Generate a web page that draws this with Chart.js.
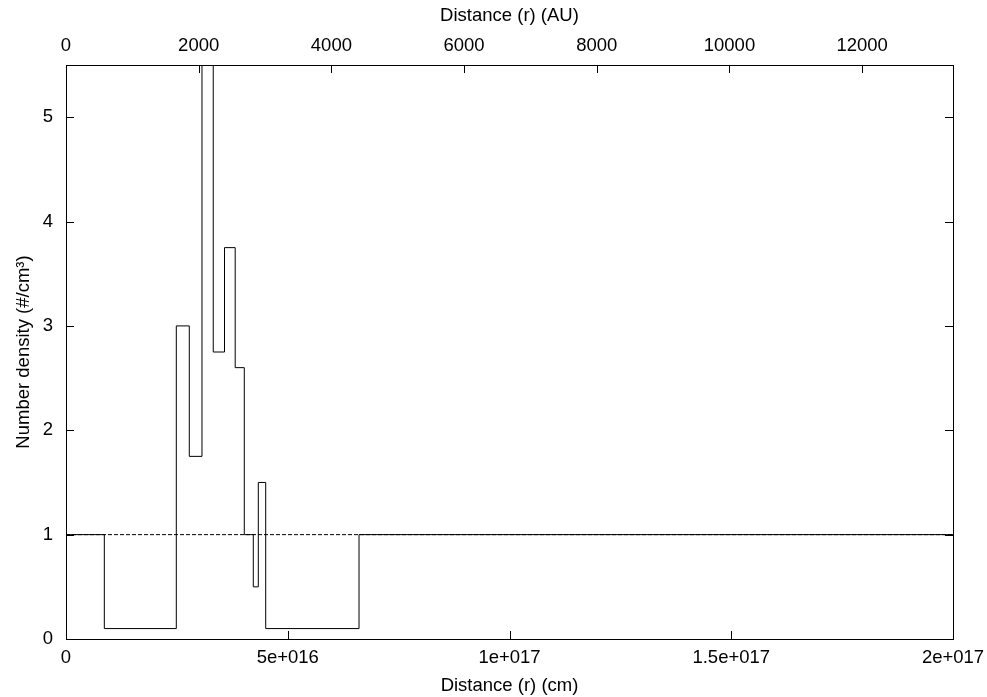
<!DOCTYPE html>
<html>
<head>
<meta charset="utf-8">
<script src="https://cdn.jsdelivr.net/npm/chart.js@4/dist/chart.umd.min.js"></script>
<style>
  html, body { margin: 0; padding: 0; background: #fff; }
  canvas { display: block; }
</style>
</head>
<body>
<canvas id="densityChart" width="987" height="697"></canvas>
<script>
// step edges (cm) and density on each step (value holds until the next edge)
const edgesCm = [0, 8.64e15, 24.87e15, 27.8e15, 30.66e15, 33.2e15, 35.74e15, 38.15e15,
                 40.2e15, 42.23e15, 43.36e15, 45.03e15, 66.07e15, 2e17];
const density = [1, 0.1, 3, 1.75, 5.5, 2.75, 3.75, 2.6, 1, 0.5, 1.5, 0.1, 1, 1];

// reference level (dashed)
const refX = [0, 2e17];
const refY = [1, 1];

// top axis tick labels (AU)
const auTicks = [0, 2000, 4000, 6000, 8000, 10000, 12000];

const xMaxCm = 2e17;
const cmPerAU = 1.496e13;
const yMax = 5.5;

const FONT = { family: '"Liberation Sans", Arial, Helvetica, sans-serif', size: 18.5 };

function sciLabel(v) {
  if (v === 0) return '0';
  const exp = Math.floor(Math.log10(v) + 1e-9);
  const mant = Math.round(v / Math.pow(10, exp) * 100) / 100;
  return mant + 'e+' + String(exp).padStart(3, '0');
}

// gnuplot style frame with inward ticks
const framePlugin = {
  id: 'frame',
  afterDraw(chart) {
    const { ctx, chartArea: a, scales } = chart;
    const len = 8;
    ctx.save();
    ctx.strokeStyle = '#000';
    ctx.lineWidth = 1;
    ctx.beginPath();
    scales.x.ticks.forEach(t => {
      const px = Math.round(scales.x.getPixelForValue(t.value)) + 0.5;
      ctx.moveTo(px, a.bottom); ctx.lineTo(px, a.bottom - len);
    });
    scales.x2.ticks.forEach(t => {
      const px = Math.round(scales.x2.getPixelForValue(t.value)) + 0.5;
      ctx.moveTo(px, a.top); ctx.lineTo(px, a.top + len);
    });
    scales.y.ticks.forEach(t => {
      const py = Math.round(scales.y.getPixelForValue(t.value)) + 0.5;
      ctx.moveTo(a.left, py); ctx.lineTo(a.left + len, py);
      ctx.moveTo(a.right, py); ctx.lineTo(a.right - len, py);
    });
    ctx.stroke();
    ctx.strokeRect(Math.round(a.left) + 0.5, Math.round(a.top) + 0.5,
                   Math.round(a.right - a.left), Math.round(a.bottom - a.top));
    ctx.restore();
  }
};

new Chart(document.getElementById('densityChart'), {
  type: 'line',
  data: {
    datasets: [
      {
        data: edgesCm.map((x, i) => ({ x: x, y: density[i] })),
        stepped: 'before',
        borderColor: '#000',
        borderWidth: 1,
        pointRadius: 0,
        fill: false,
        xAxisID: 'x'
      },
      {
        data: refX.map((x, i) => ({ x: x, y: refY[i] })),
        borderColor: '#000',
        borderWidth: 1,
        borderDash: [4, 2],
        pointRadius: 0,
        fill: false,
        xAxisID: 'x'
      }
    ]
  },
  options: {
    responsive: false,
    animation: false,
    layout: { padding: { left: 0, right: 34, top: 0, bottom: 0 } },
    plugins: { legend: { display: false }, tooltip: { enabled: false } },
    scales: {
      x: {
        type: 'linear',
        position: 'bottom',
        min: 0,
        max: xMaxCm,
        grid: { display: false },
        border: { display: false },
        ticks: {
          stepSize: 5e16,
          includeBounds: false,
          color: '#000',
          font: FONT,
          padding: 0,
          maxRotation: 0,
          callback: v => sciLabel(v)
        },
        title: { display: true, text: 'Distance (r) (cm)', color: '#000', font: FONT, padding: { top: 0, bottom: 0 } },
        afterFit(s) { s.height = 58; s.paddingLeft = 0; s.paddingRight = 0; }
      },
      x2: {
        type: 'linear',
        position: 'top',
        min: 0,
        max: xMaxCm / cmPerAU,
        grid: { display: false },
        border: { display: false },
        ticks: {
          color: '#000',
          font: FONT,
          padding: 0,
          maxRotation: 0,
          autoSkip: false,
          callback: v => String(v)
        },
        afterBuildTicks(s) { s.ticks = auTicks.map(v => ({ value: v })); },
        title: { display: true, text: 'Distance (r) (AU)', color: '#000', font: FONT, padding: { top: 5, bottom: 0 } },
        afterFit(s) { s.height = 65; s.paddingLeft = 0; s.paddingRight = 0; }
      },
      y: {
        type: 'linear',
        min: 0,
        max: yMax,
        grid: { display: false },
        border: { display: false },
        ticks: {
          stepSize: 1,
          includeBounds: false,
          color: '#000',
          font: FONT,
          padding: 5
        },
        title: { display: true, text: 'Number density (#/cm³)', color: '#000', font: FONT, padding: { top: 13, bottom: 0 } },
        afterFit(s) { s.width = 66; s.paddingTop = 0; s.paddingBottom = 0; }
      }
    }
  },
  plugins: [framePlugin]
});
</script>
</body>
</html>
